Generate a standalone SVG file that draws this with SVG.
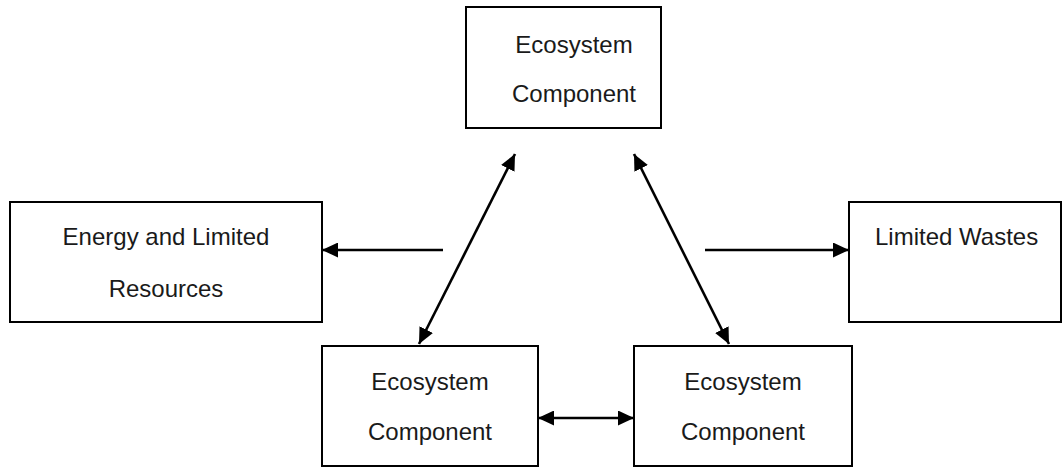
<svg xmlns="http://www.w3.org/2000/svg" width="1062" height="467" viewBox="0 0 1062 467">
<defs>
<style>
.box{fill:#fff;stroke:#000;stroke-width:2}
.t{font-family:"Liberation Sans",Arial,sans-serif;font-size:24px;fill:#1a1a1a}
.c{stroke:#000;stroke-width:2.6;fill:none}
</style>
<marker id="ah" viewBox="0 0 16 15" refX="16" refY="7.5" markerWidth="16" markerHeight="15" markerUnits="userSpaceOnUse" orient="auto-start-reverse">
<path d="M0,0 L16,7.5 L0,15 Z" fill="#000"/>
</marker>
</defs>
<rect width="1062" height="467" fill="#fff"/>
<g id="top">
<rect class="box" x="466" y="7" width="195" height="121"/>
<text class="t" x="574" y="53" text-anchor="middle">Ecosystem</text>
<text class="t" x="574" y="102" text-anchor="middle">Component</text>
</g>
<g id="energy">
<rect class="box" x="10" y="202" width="312" height="120"/>
<text class="t" x="166" y="245" text-anchor="middle">Energy and Limited</text>
<text class="t" x="166" y="297" text-anchor="middle">Resources</text>
</g>
<g id="wastes">
<rect class="box" x="849" y="202" width="212" height="120"/>
<text class="t" x="875" y="245">Limited Wastes</text>
</g>
<g id="bl">
<rect class="box" x="322" y="346" width="216" height="120"/>
<text class="t" x="430" y="390" text-anchor="middle">Ecosystem</text>
<text class="t" x="430" y="440" text-anchor="middle">Component</text>
</g>
<g id="br">
<rect class="box" x="634" y="346" width="218" height="120"/>
<text class="t" x="743" y="390" text-anchor="middle">Ecosystem</text>
<text class="t" x="743" y="440" text-anchor="middle">Component</text>
</g>
<g id="connectors">
<line class="c" x1="443" y1="250" x2="322" y2="250" marker-end="url(#ah)"/>
<line class="c" x1="705" y1="250" x2="849" y2="250" marker-end="url(#ah)"/>
<line class="c" x1="515" y1="154" x2="419" y2="344" marker-start="url(#ah)" marker-end="url(#ah)"/>
<line class="c" x1="634" y1="154" x2="729" y2="344" marker-start="url(#ah)" marker-end="url(#ah)"/>
<line class="c" x1="538" y1="418" x2="634" y2="418" marker-start="url(#ah)" marker-end="url(#ah)"/>
</g>
</svg>
